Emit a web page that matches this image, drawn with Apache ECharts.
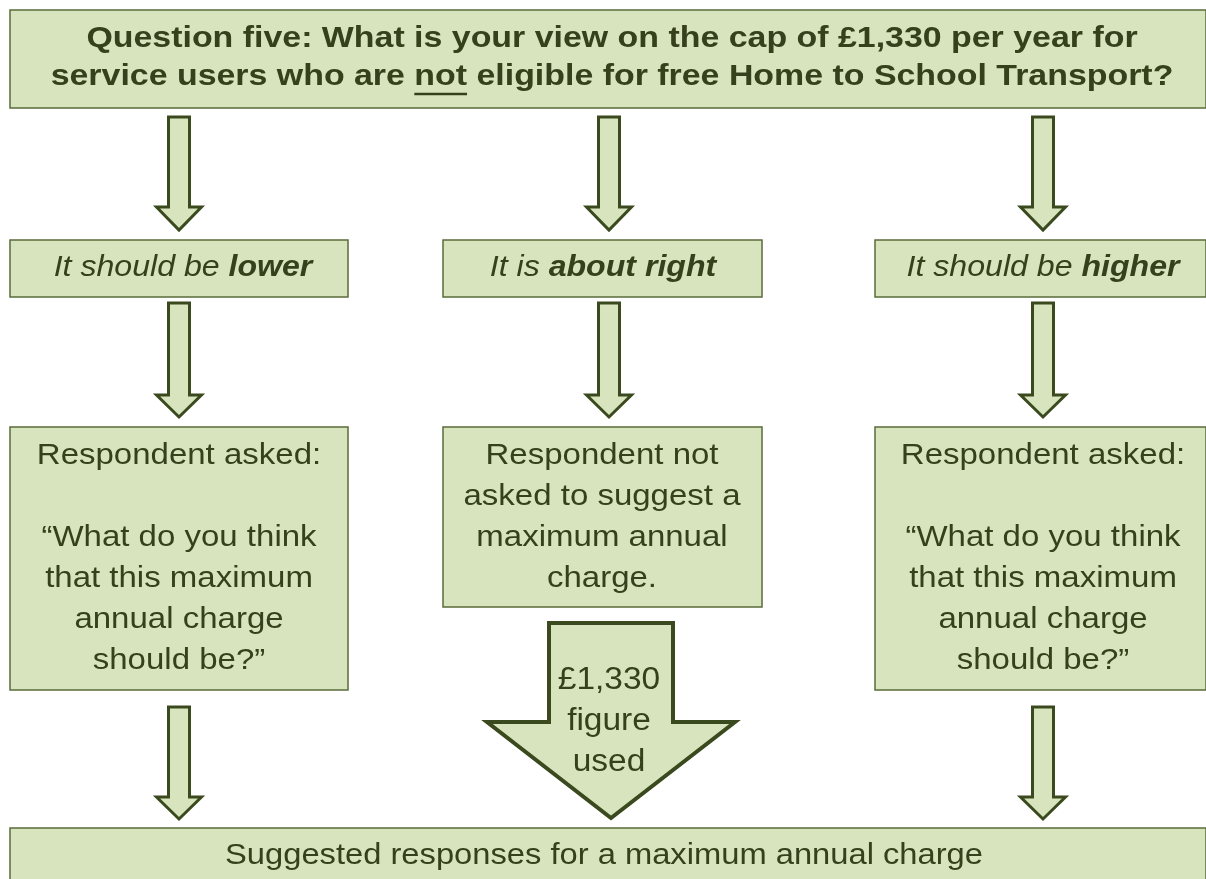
<!DOCTYPE html>
<html>
<head>
<meta charset="utf-8">
<script src="https://cdn.jsdelivr.net/npm/echarts@6/dist/echarts.min.js"></script>
<style>
  html, body { margin: 0; padding: 0; background: #fff; }
  #chart { width: 1206px; height: 879px; }
</style>
</head>
<body>
<div id="chart"></div>
<script>
// flowchart texts
const titleLines = [
  "Question five: What is your view on the cap of £1,330 per year for",
  "service users who are {u|not} eligible for free Home to School Transport?"
];
const answers = [
  ["It should be ", "lower"],
  ["It is ", "about right"],
  ["It should be ", "higher"]
];
const askedText = [
  "Respondent asked:",
  "",
  "“What do you think",
  "that this maximum",
  "annual charge",
  "should be?”"
];
const notAskedText = [
  "Respondent not",
  "asked to suggest a",
  "maximum annual",
  "charge."
];
const bigArrowText = ["£1,330", "figure", "used"];
const bottomText = "Suggested responses for a maximum annual charge";

const FILL = "#d7e4bd";
const BORDER = "#5a6b3a";
const ARROW_LINE = "#3b4a1e";
const TEXT = "#35401c";
const FONT = "'Liberation Sans', Arial, sans-serif";

const colX = [179, 609, 1043];

function box(x, y, w, h) {
  return {
    type: "rect",
    shape: { x: x, y: y, width: w, height: h },
    style: { fill: FILL, stroke: BORDER, lineWidth: 1.5 }
  };
}

function arrow(cx, top, tip, shaftW, headW, headH, lw) {
  const s = shaftW / 2, hw = headW / 2, hb = tip - headH;
  return {
    type: "polygon",
    shape: {
      points: [
        [cx - s, top], [cx + s, top], [cx + s, hb], [cx + hw, hb],
        [cx, tip], [cx - hw, hb], [cx - s, hb]
      ]
    },
    style: { fill: FILL, stroke: ARROW_LINE, lineWidth: lw, lineJoin: "miter" }
  };
}

function text(str, x, y, opts, sx) {
  return {
    type: "text",
    x: x, y: y,
    scaleX: sx || 1.1,
    style: Object.assign({
      text: str,
      fill: TEXT,
      font: "30px " + FONT,
      align: "center",
      verticalAlign: "middle"
    }, opts || {})
  };
}

function lines(arr, cx, y0, lh, opts, sx) {
  return arr.map((s, i) => text(s, cx, y0 + i * lh, opts, sx));
}

const els = [];
const TITLE_FONT = "bold 30px " + FONT;
const TITLE_SX = 1.13;

// title box
els.push(box(10, 10, 1196, 98));
els.push(text(titleLines[0], 612, 39, { font: TITLE_FONT }, TITLE_SX));
els.push(text(titleLines[1], 612, 77, {
  font: TITLE_FONT,
  rich: { u: { font: TITLE_FONT, fill: TEXT } }
}, TITLE_SX));

// underline under "not"
const ctx = document.createElement("canvas").getContext("2d");
ctx.font = TITLE_FONT;
const l2 = titleLines[1].replace("{u|not}", "not");
const fullW = ctx.measureText(l2).width;
const preW = ctx.measureText("service users who are ").width;
const notW = ctx.measureText("not").width;
const ux = 612 + (preW - fullW / 2) * TITLE_SX;
els.push({
  type: "line",
  shape: { x1: ux, y1: 94, x2: ux + notW * TITLE_SX, y2: 94 },
  style: { stroke: TEXT, lineWidth: 2.5 }
});

// arrows row 1
colX.forEach(cx => els.push(arrow(cx, 117, 230, 21, 45, 23, 3)));

// answer boxes
const ansBoxes = [[10, 338], [443, 319], [875, 331]];
const ansCx = [183, 603, 1043];
ansBoxes.forEach((b, i) => {
  els.push(box(b[0], 240, b[1], 57));
  els.push({
    type: "text",
    x: ansCx[i], y: 268,
    scaleX: 1.07,
    style: {
      text: "{i|" + answers[i][0] + "}{b|" + answers[i][1] + "}",
      align: "center",
      verticalAlign: "middle",
      rich: {
        i: { font: "italic 30px " + FONT, fill: TEXT },
        b: { font: "italic bold 30px " + FONT, fill: TEXT }
      }
    }
  });
});

// arrows row 2
colX.forEach(cx => els.push(arrow(cx, 303, 417, 21, 45, 22, 3)));

// third row boxes
els.push(box(10, 427, 338, 263));
els.push(box(443, 427, 319, 180));
els.push(box(875, 427, 331, 263));
els.push(...lines(askedText, 179, 456, 41));
els.push(...lines(notAskedText, 602, 456, 41));
els.push(...lines(askedText, 1043, 456, 41));

// arrows row 3
els.push(arrow(colX[0], 707, 819, 21, 45, 22, 3));
els.push(arrow(colX[2], 707, 819, 21, 45, 22, 3));

// big arrow
els.push(arrow(611, 623, 818, 124, 248, 96, 4));
els.push(...lines(bigArrowText, 609, 680, 41, { font: "31px " + FONT }, 1.08));

// bottom box
els.push(box(10, 828, 1196, 60));
els.push(text(bottomText, 604, 856, null, 1.09));

const chart = echarts.init(document.getElementById("chart"));
chart.setOption({
  backgroundColor: "#ffffff",
  graphic: { elements: els }
});
</script>
</body>
</html>
